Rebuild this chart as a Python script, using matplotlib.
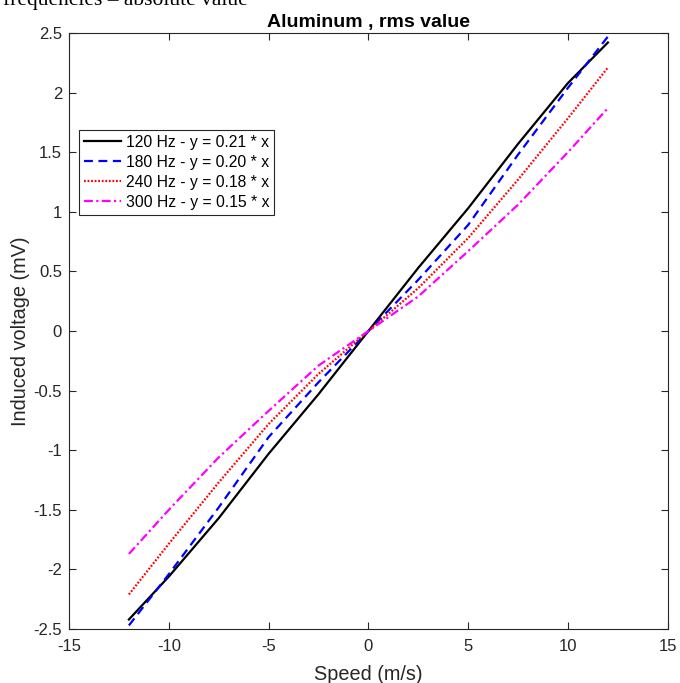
import matplotlib
matplotlib.use("Agg")
import matplotlib.pyplot as plt

plt.rcParams['font.family'] = ['Liberation Sans', 'DejaVu Sans']
plt.rcParams['axes.unicode_minus'] = False

# speed values (m/s) and induced voltage (mV)
speed = [-12, -10, -7.5, -5, -2.5, 0, 2.5, 5, 7.5, 10, 12]
v_120 = [-2.42, -2.06, -1.57, -1.03, -0.53, 0, 0.53, 1.03, 1.57, 2.08, 2.42]
v_180 = [-2.47, -2.04, -1.48, -0.89, -0.43, 0, 0.43, 0.89, 1.48, 2.04, 2.47]
v_240 = [-2.21, -1.785, -1.27, -0.78, -0.36, 0, 0.36, 0.78, 1.27, 1.785, 2.21]
v_300 = [-1.87, -1.50, -1.06, -0.67, -0.29, 0, 0.29, 0.67, 1.06, 1.50, 1.87]

labels = ['120 Hz - y = 0.21 * x', '180 Hz - y = 0.20 * x',
          '240 Hz - y = 0.18 * x', '300 Hz - y = 0.15 * x']

xticks = [-15, -10, -5, 0, 5, 10, 15]
yticks = [-2.5, -2, -1.5, -1, -0.5, 0, 0.5, 1, 1.5, 2, 2.5]
ytick_labels = ['-2.5', '-2', '-1.5', '-1', '-0.5', '0', '0.5', '1', '1.5', '2', '2.5']

axcol = '#262626'

fig = plt.figure(figsize=(6.8, 6.83), dpi=100)
ax = fig.add_axes([0.1015, 0.079, 0.8805, 0.8727])

ax.plot(speed, v_120, color='black', lw=1.6, ls='-', label=labels[0])
ax.plot(speed, v_180, color='#0000ff', lw=1.6, ls=(0, (4, 2.5)), label=labels[1])
ax.plot(speed, v_240, color='#ff0000', lw=1.6, ls=(0, (0.8, 0.8)), label=labels[2])
ax.plot(speed, v_300, color='#ff00ff', lw=1.6, ls=(0, (4, 1.5, 1, 1.5)), label=labels[3])

ax.set_xlim(-15, 15)
ax.set_ylim(-2.5, 2.5)
ax.set_xticks(xticks)
ax.set_xticklabels([str(t) for t in xticks])
ax.set_yticks(yticks)
ax.set_yticklabels(ytick_labels)
ax.tick_params(direction='in', length=5, width=0.8, colors=axcol, labelsize=12,
               top=True, right=True, labelcolor=axcol, pad=5)
ax.tick_params(axis='x', pad=7)
for s in ax.spines.values():
    s.set_color(axcol)
    s.set_linewidth(0.8)

ax.set_title('Aluminum , rms value', fontsize=14, fontweight='bold', color='black', pad=4)
ax.set_xlabel('Speed (m/s)', fontsize=14.3, color=axcol, labelpad=8)
ax.set_ylabel('Induced voltage (mV)', fontsize=14.3, color=axcol, labelpad=2.5)

leg = ax.legend(loc='upper left', bbox_to_anchor=(0.0167, 0.837), fontsize=11.3,
                handlelength=2.35, handletextpad=0.35, borderpad=0.3,
                labelspacing=0.32, fancybox=False, framealpha=1,
                borderaxespad=0)
leg.get_frame().set_edgecolor(axcol)
leg.get_frame().set_linewidth(0.8)

# cut-off caption from the page above the figure
fig.text(0.005, 1 - 5 / 683, 'frequencies \u2013 absolute value', fontsize=15.5,
         family=['Liberation Serif', 'DejaVu Serif'], va='baseline', ha='left')

fig.savefig('out.png', dpi=100)
